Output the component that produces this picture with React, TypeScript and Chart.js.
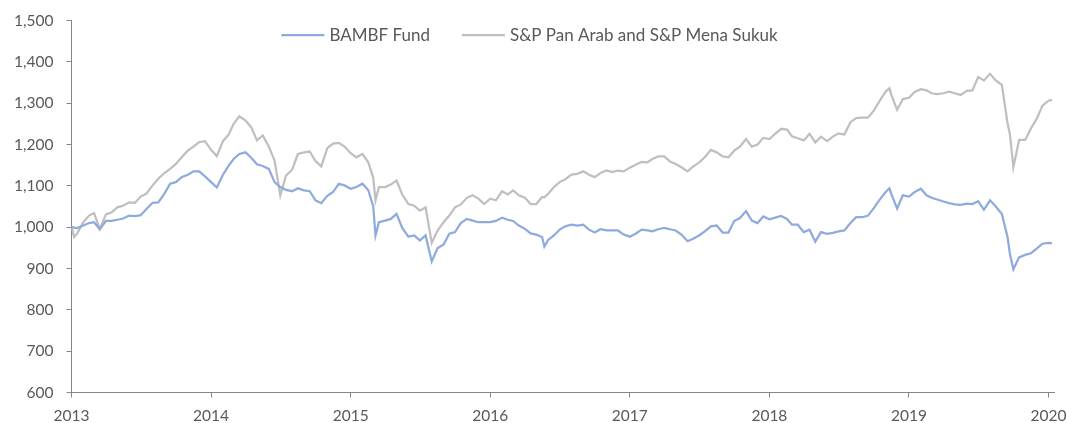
import React, { useEffect, useRef } from "react";
import { Chart, registerables } from "chart.js";

Chart.register(...registerables);

const seriesLabels = ["BAMBF Fund", "S&P Pan Arab and S&P Mena Sukuk"];

const dates = [
  "2013-01-01", "2013-01-08", "2013-01-16", "2013-02-01", "2013-02-16", "2013-03-01", "2013-03-16", "2013-04-01", "2013-04-16", "2013-05-01", "2013-05-16", "2013-06-01", "2013-06-16",
  "2013-07-01", "2013-07-16", "2013-08-01", "2013-08-16", "2013-09-01", "2013-09-16", "2013-10-01", "2013-10-16", "2013-11-01", "2013-11-16", "2013-12-01", "2013-12-16",
  "2014-01-01", "2014-01-16", "2014-02-01", "2014-02-16", "2014-03-01", "2014-03-16", "2014-04-01", "2014-04-16", "2014-05-01", "2014-05-16", "2014-06-01", "2014-06-16",
  "2014-07-01", "2014-07-16", "2014-08-01", "2014-08-16", "2014-09-01", "2014-09-16", "2014-10-01", "2014-10-16", "2014-11-01", "2014-11-16", "2014-12-01", "2014-12-16",
  "2015-01-01", "2015-01-16", "2015-02-01", "2015-02-16", "2015-03-01", "2015-03-07", "2015-03-16", "2015-04-01", "2015-04-16", "2015-05-01", "2015-05-16", "2015-06-01", "2015-06-16",
  "2015-07-01", "2015-07-16", "2015-08-01", "2015-08-16", "2015-09-01", "2015-09-16", "2015-10-01", "2015-10-16", "2015-11-01", "2015-11-16", "2015-12-01", "2015-12-16",
  "2016-01-01", "2016-01-16", "2016-02-01", "2016-02-16", "2016-03-01", "2016-03-16", "2016-04-01", "2016-04-16", "2016-05-01", "2016-05-16", "2016-05-22", "2016-06-01", "2016-06-16",
  "2016-07-01", "2016-07-16", "2016-08-01", "2016-08-16", "2016-09-01", "2016-09-16", "2016-10-01", "2016-10-16", "2016-11-01", "2016-11-16", "2016-12-01", "2016-12-16",
  "2017-01-01", "2017-01-16", "2017-02-01", "2017-02-16", "2017-03-01", "2017-03-16", "2017-04-01", "2017-04-16", "2017-05-01", "2017-05-16", "2017-06-01", "2017-06-16",
  "2017-07-01", "2017-07-16", "2017-08-01", "2017-08-16", "2017-09-01", "2017-09-16", "2017-10-01", "2017-10-16", "2017-11-01", "2017-11-16", "2017-12-01", "2017-12-16",
  "2018-01-01", "2018-01-16", "2018-02-01", "2018-02-16", "2018-03-01", "2018-03-16", "2018-04-01", "2018-04-16", "2018-05-01", "2018-05-16", "2018-06-01", "2018-06-16",
  "2018-07-01", "2018-07-16", "2018-08-01", "2018-08-16", "2018-09-01", "2018-09-16", "2018-10-01", "2018-10-16", "2018-11-01", "2018-11-11", "2018-11-16", "2018-12-01", "2018-12-16",
  "2019-01-01", "2019-01-16", "2019-02-01", "2019-02-16", "2019-03-01", "2019-03-16", "2019-04-01", "2019-04-16", "2019-05-01", "2019-05-16", "2019-06-01", "2019-06-16",
  "2019-07-01", "2019-07-16", "2019-08-01", "2019-08-16", "2019-09-01", "2019-09-16", "2019-09-22", "2019-10-01", "2019-10-16", "2019-11-01", "2019-11-16", "2019-12-01", "2019-12-16",
  "2020-01-01", "2020-01-10",
];

const bambfFund = [
  1000, 999, 998, 1004, 1010, 1012, 995, 1015, 1015, 1018, 1021, 1028, 1027,
  1029, 1044, 1059, 1060, 1081, 1105, 1109, 1121, 1127, 1135, 1135, 1123,
  1109, 1096, 1127, 1149, 1165, 1177, 1181, 1168, 1152, 1148, 1141, 1109,
  1097, 1090, 1087, 1094, 1089, 1087, 1065, 1058, 1076, 1085, 1105, 1101,
  1093, 1097, 1105, 1090, 1050, 980, 1012, 1016, 1020, 1032, 998, 977, 980,
  968, 980, 917, 949, 958, 984, 988, 1010, 1020, 1016, 1012, 1012,
  1012, 1015, 1023, 1018, 1015, 1004, 996, 985, 982, 976, 953, 969, 980,
  994, 1002, 1006, 1004, 1006, 994, 987, 995, 992, 992, 992, 982,
  977, 984, 994, 992, 990, 995, 998, 995, 992, 982, 966, 972,
  980, 990, 1002, 1004, 987, 987, 1015, 1022, 1039, 1016, 1010, 1026,
  1019, 1023, 1027, 1020, 1006, 1006, 988, 994, 965, 988, 984, 986,
  990, 992, 1010, 1024, 1024, 1028, 1046, 1066, 1085, 1094, 1080, 1045, 1077,
  1074, 1085, 1093, 1077, 1071, 1067, 1062, 1058, 1055, 1054, 1057, 1056,
  1063, 1042, 1065, 1050, 1032, 975, 935, 898, 927, 933, 937, 948, 960,
  962, 961,
];

const spPanArabSukuk = [
  1000, 976, 985, 1012, 1028, 1034, 996, 1031, 1036, 1048, 1052, 1060, 1059,
  1074, 1081, 1101, 1117, 1131, 1141, 1153, 1169, 1185, 1195, 1206, 1208,
  1187, 1172, 1208, 1224, 1250, 1268, 1258, 1242, 1210, 1222, 1195, 1161,
  1077, 1125, 1139, 1177, 1181, 1183, 1160, 1147, 1191, 1202, 1204, 1195,
  1179, 1169, 1177, 1157, 1120, 1065, 1097, 1097, 1103, 1113, 1079, 1056, 1052,
  1040, 1048, 962, 991, 1012, 1028, 1048, 1055, 1071, 1077, 1069, 1056,
  1069, 1065, 1087, 1079, 1089, 1077, 1071, 1056, 1056, 1073, 1072, 1081, 1097,
  1109, 1116, 1127, 1129, 1135, 1127, 1121, 1131, 1137, 1133, 1137, 1135,
  1144, 1151, 1158, 1157, 1165, 1171, 1171, 1159, 1153, 1145, 1135, 1147,
  1156, 1169, 1187, 1181, 1171, 1169, 1185, 1195, 1213, 1195, 1200, 1216,
  1213, 1226, 1238, 1236, 1220, 1215, 1210, 1226, 1205, 1219, 1208, 1219,
  1227, 1224, 1254, 1264, 1265, 1265, 1282, 1305, 1328, 1336, 1320, 1284, 1310,
  1313, 1327, 1334, 1331, 1324, 1322, 1324, 1328, 1324, 1320, 1330, 1331,
  1363, 1355, 1371, 1355, 1344, 1250, 1225, 1145, 1211, 1211, 1239, 1262, 1294,
  1306, 1308,
];

const yearTicks = [2013, 2014, 2015, 2016, 2017, 2018, 2019, 2020];
const xMin = 2013;
const xMax = 2020.042;
const yMin = 600;
const yMax = 1500;
const yStep = 100;

const BLUE = "#8FAADC";
const GREY = "#BFBFBF";
const TEXT = "#595959";
const AXIS = "#868686";
const FONT = "Lato";

function toYear(s: string): number {
  const [y, m, d] = s.split("-").map(Number);
  const start = Date.UTC(y, 0, 1);
  const end = Date.UTC(y + 1, 0, 1);
  return y + (Date.UTC(y, m - 1, d) - start) / (end - start);
}

const topLegend = {
  id: "topLegend",
  afterDraw(chart: any) {
    const ctx = chart.ctx;
    ctx.save();
    ctx.font = `17px ${FONT}`;
    const lineW = 43;
    const gap = 5;
    const itemGap = 32;
    const items = chart.data.datasets.map((ds: any) => ({
      label: ds.label,
      color: ds.borderColor,
      w: ctx.measureText(ds.label).width,
    }));
    const total =
      items.reduce((a: number, it: any) => a + lineW + gap + it.w, 0) + itemGap * (items.length - 1);
    let x = chart.width / 2 - 4 - total / 2;
    const y = 35;
    ctx.textBaseline = "middle";
    ctx.textAlign = "left";
    for (const it of items) {
      ctx.strokeStyle = it.color;
      ctx.lineWidth = 2.25;
      ctx.beginPath();
      ctx.moveTo(x, y);
      ctx.lineTo(x + lineW, y);
      ctx.stroke();
      x += lineW + gap;
      ctx.fillStyle = TEXT;
      ctx.fillText(it.label, x, y + 1);
      x += it.w + itemGap;
    }
    ctx.restore();
  },
};

export default function App() {
  const ref = useRef<HTMLCanvasElement | null>(null);

  useEffect(() => {
    if (!ref.current) return;
    const xs = dates.map(toYear);
    const chart = new Chart(ref.current, {
      type: "line",
      data: {
        datasets: [
          {
            label: seriesLabels[0],
            data: xs.map((x, i) => ({ x, y: bambfFund[i] })),
            borderColor: BLUE,
            backgroundColor: BLUE,
            borderWidth: 2.25,
            pointRadius: 0,
            tension: 0,
            order: 1,
          },
          {
            label: seriesLabels[1],
            data: xs.map((x, i) => ({ x, y: spPanArabSukuk[i] })),
            borderColor: GREY,
            backgroundColor: GREY,
            borderWidth: 2.25,
            pointRadius: 0,
            tension: 0,
            order: 2,
          },
        ],
      },
      options: {
        responsive: false,
        animation: false,
        layout: { padding: { top: 20.5, right: 12.6, left: 0, bottom: 0 } },
        plugins: {
          legend: { display: false },
          tooltip: { enabled: false },
        },
        scales: {
          x: {
            type: "linear",
            min: xMin,
            max: xMax,
            afterBuildTicks: (s: any) => {
              s.ticks = yearTicks.map((v) => ({ value: v }));
            },
            afterFit: (s: any) => {
              s.height = 30.5;
              s.paddingLeft = 0;
              s.paddingRight = 0;
            },
            ticks: {
              autoSkip: false,
              maxRotation: 0,
              color: TEXT,
              font: { family: FONT, size: 15.5 },
              padding: 9,
              callback: (v: any) => String(v),
            },
            grid: {
              drawOnChartArea: false,
              drawTicks: true,
              tickLength: 5,
              color: AXIS,
            },
            border: { display: true, color: AXIS, width: 1 },
          },
          y: {
            min: yMin,
            max: yMax,
            afterFit: (s: any) => {
              s.width = 71.5;
              s.paddingTop = 0;
              s.paddingBottom = 0;
            },
            ticks: {
              stepSize: yStep,
              color: TEXT,
              font: { family: FONT, size: 15.5 },
              padding: 13,
              callback: (v: any) => Number(v).toLocaleString("en-US"),
            },
            grid: {
              drawOnChartArea: false,
              drawTicks: true,
              tickLength: 5,
              color: AXIS,
            },
            border: { display: true, color: AXIS, width: 1 },
          },
        },
      },
      plugins: [topLegend],
    });
    return () => chart.destroy();
  }, []);

  return (
    <div style={{ position: "fixed", left: 0, top: 0, width: 1067, height: 423, background: "#fff" }}>
      <canvas ref={ref} width={1067} height={423} />
    </div>
  );
}
